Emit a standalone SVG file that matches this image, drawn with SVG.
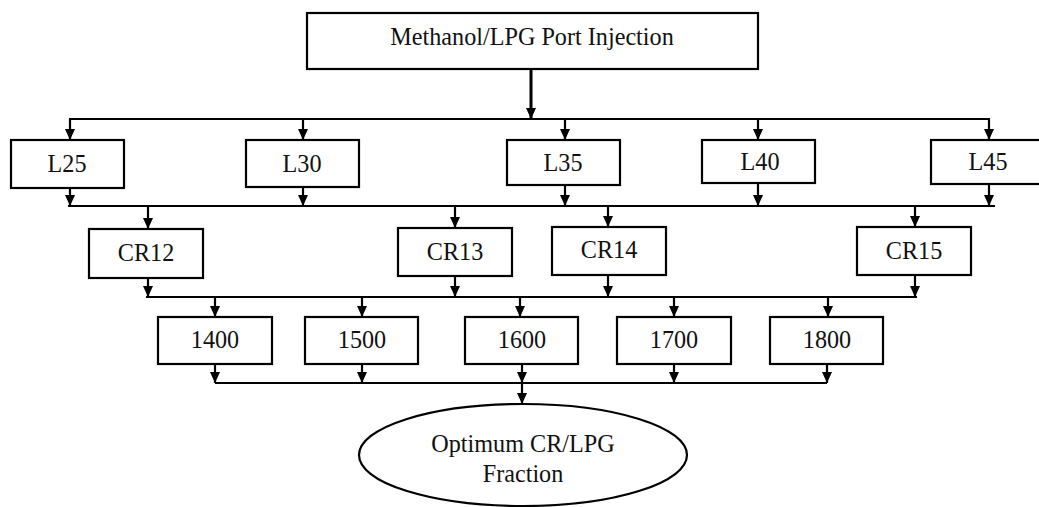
<svg xmlns="http://www.w3.org/2000/svg" width="1039" height="507" viewBox="0 0 1039 507">
<style>
.box{fill:#fff;stroke:#000;stroke-width:2.2}
text{font-family:'Liberation Serif','DejaVu Serif','Times New Roman',serif;font-size:24.2px;fill:#111;text-anchor:middle}
.c{fill:none;stroke:#000;stroke-width:2.2}
.a{fill:none;stroke:#000;stroke-width:2.2;marker-end:url(#ah)}
</style>
<defs>
<marker id="ah" markerUnits="userSpaceOnUse" markerWidth="12" markerHeight="11" refX="11" refY="5" orient="auto">
<path d="M0,0 L11,5 L0,10 z" fill="#000"/>
</marker>
</defs>
<g id="connectors">
<line class="a" x1="531" y1="69" x2="531" y2="119" style="stroke-width:3"/>
<line class="c" x1="69" y1="119" x2="990" y2="119"/>
<line class="a" x1="70" y1="119" x2="70" y2="140"/>
<line class="a" x1="303" y1="119" x2="303" y2="140"/>
<line class="a" x1="565" y1="119" x2="565" y2="140"/>
<line class="a" x1="758" y1="119" x2="758" y2="140"/>
<line class="a" x1="989" y1="119" x2="989" y2="140"/>
<line class="a" x1="70" y1="188" x2="70" y2="206"/>
<line class="a" x1="303" y1="187" x2="303" y2="206"/>
<line class="a" x1="565" y1="185" x2="565" y2="206"/>
<line class="a" x1="758" y1="183" x2="758" y2="206"/>
<line class="a" x1="989" y1="184" x2="989" y2="206"/>
<line class="c" x1="68" y1="206" x2="995" y2="206"/>
<line class="a" x1="148" y1="206" x2="148" y2="229"/>
<line class="a" x1="455" y1="206" x2="455" y2="228"/>
<line class="a" x1="608" y1="206" x2="608" y2="227"/>
<line class="a" x1="915" y1="206" x2="915" y2="227"/>
<line class="a" x1="148" y1="278" x2="148" y2="297"/>
<line class="a" x1="455" y1="276" x2="455" y2="297"/>
<line class="a" x1="608" y1="275" x2="608" y2="297"/>
<line class="a" x1="915" y1="275" x2="915" y2="297"/>
<line class="c" x1="146" y1="297" x2="917" y2="297"/>
<line class="a" x1="215" y1="297" x2="215" y2="317"/>
<line class="a" x1="362" y1="297" x2="362" y2="317"/>
<line class="a" x1="520" y1="297" x2="520" y2="317"/>
<line class="a" x1="674" y1="297" x2="674" y2="317"/>
<line class="a" x1="828" y1="297" x2="828" y2="317"/>
<line class="a" x1="215" y1="364" x2="215" y2="383"/>
<line class="a" x1="362" y1="364" x2="362" y2="383"/>
<line class="a" x1="522" y1="364" x2="522" y2="383"/>
<line class="a" x1="674" y1="364" x2="674" y2="383"/>
<line class="a" x1="827" y1="364" x2="827" y2="383"/>
<line class="c" x1="215" y1="383" x2="827" y2="383"/>
<line class="a" x1="522" y1="383" x2="522" y2="404"/>
</g>
<g id="top"><rect class="box" x="307" y="13" width="451" height="56"/><text x="532" y="45">Methanol/LPG Port Injection</text></g>
<g id="L25"><rect class="box" x="11" y="140" width="113" height="48"/><text x="67" y="172">L25</text></g>
<g id="L30"><rect class="box" x="246" y="140" width="113" height="47"/><text x="302" y="172">L30</text></g>
<g id="L35"><rect class="box" x="507" y="140" width="113" height="45"/><text x="563" y="171">L35</text></g>
<g id="L40"><rect class="box" x="702" y="140" width="113" height="43"/><text x="760" y="170">L40</text></g>
<g id="L45"><rect class="box" x="931" y="140" width="113" height="44"/><text x="988" y="170">L45</text></g>
<g id="CR12"><rect class="box" x="89" y="229" width="114" height="49"/><text x="146" y="261">CR12</text></g>
<g id="CR13"><rect class="box" x="398" y="228" width="114" height="48"/><text x="455" y="260">CR13</text></g>
<g id="CR14"><rect class="box" x="552" y="227" width="114" height="48"/><text x="609" y="258">CR14</text></g>
<g id="CR15"><rect class="box" x="857" y="227" width="114" height="48"/><text x="914" y="259">CR15</text></g>
<g id="n1400"><rect class="box" x="158" y="317" width="114" height="47"/><text x="215" y="348">1400</text></g>
<g id="n1500"><rect class="box" x="305" y="317" width="113" height="47"/><text x="362" y="348">1500</text></g>
<g id="n1600"><rect class="box" x="465" y="317" width="113" height="47"/><text x="522" y="348">1600</text></g>
<g id="n1700"><rect class="box" x="617" y="317" width="114" height="47"/><text x="674" y="348">1700</text></g>
<g id="n1800"><rect class="box" x="770" y="317" width="113" height="47"/><text x="827" y="348">1800</text></g>
<g id="optimum"><ellipse class="box" cx="523" cy="455" rx="164" ry="51"/><text x="523" y="452">Optimum CR/LPG</text><text x="523" y="482">Fraction</text></g>
</svg>
